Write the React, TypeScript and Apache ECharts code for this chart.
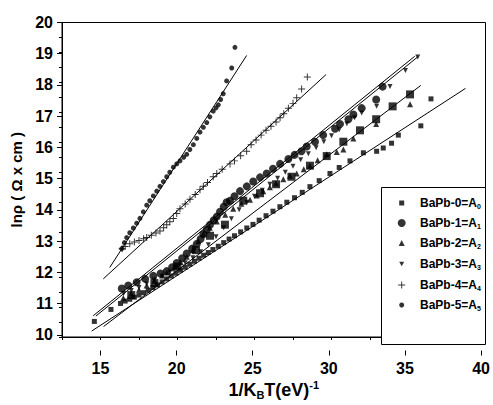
import React, { useEffect, useRef } from "react";
import * as echarts from "echarts";

// ---- data ----
const seriesNames = ["BaPb-0", "BaPb-1", "BaPb-2", "BaPb-3", "BaPb-4", "BaPb-5"];
const subIdx = ["0", "1", "2", "3", "4", "5"];

const bapb0: number[][] = [
  [14.6, 10.02], [15.68, 10.42], [16.3, 10.62], [16.6, 10.7], [16.9, 10.76], [17.2, 10.83],
  [17.5, 10.9], [17.8, 10.98], [18.1, 11.06], [18.4, 11.15], [18.7, 11.24], [19.0, 11.34],
  [19.3, 11.44], [19.6, 11.54], [19.9, 11.63], [20.2, 11.73], [20.5, 11.83], [20.8, 11.93],
  [21.1, 12.03], [21.4, 12.13], [21.7, 12.23], [22.0, 12.32], [22.3, 12.42], [22.65, 12.53],
  [23.0, 12.65], [23.35, 12.77], [23.7, 12.88], [24.1, 13.01], [24.5, 13.14], [24.9, 13.26],
  [25.3, 13.4], [25.75, 13.55], [26.2, 13.7], [26.65, 13.85], [27.1, 14.0], [27.6, 14.15],
  [28.1, 14.33], [28.6, 14.52], [29.2, 14.72], [29.9, 14.96], [30.5, 15.16], [31.2, 15.38],
  [32.07, 15.65], [32.93, 15.7], [33.36, 15.81], [33.9, 15.97], [34.34, 16.24], [35.8, 16.55],
  [36.46, 17.45],
];
const bapb1: number[][] = [
  [16.38, 11.12], [16.8, 11.22], [17.35, 11.33], [17.9, 11.44], [18.43, 11.54], [18.9, 11.62],
  [19.3, 11.7], [19.65, 11.83], [19.95, 11.97], [20.3, 12.13], [20.6, 12.29], [20.95, 12.45],
  [21.25, 12.61], [21.5, 12.77], [21.68, 12.93], [21.9, 13.09], [22.11, 13.25], [22.35, 13.4],
  [22.55, 13.52], [22.76, 13.68], [23.0, 13.85], [23.19, 14.0], [23.41, 14.05], [23.7, 14.2],
  [24.06, 14.37], [24.5, 14.53], [24.92, 14.69], [25.36, 14.83], [25.79, 14.96], [26.2, 15.12],
  [26.66, 15.28], [27.2, 15.44], [27.6, 15.58], [28.05, 15.7], [28.39, 15.86], [28.93, 16.02],
  [29.46, 16.24], [30.23, 16.45], [30.55, 16.61], [31.1, 16.77], [31.42, 16.93], [31.96, 17.14],
  [32.9, 17.43], [33.32, 17.86],
];
const bapb2: number[][] = [
  [16.48, 10.8], [17.0, 10.95], [17.5, 11.08], [18.0, 11.22], [18.5, 11.38], [19.0, 11.55],
  [19.3, 11.65], [19.8, 11.85], [20.2, 12.0], [20.6, 12.18], [21.0, 12.4], [21.35, 12.7],
  [21.68, 12.95], [22.1, 13.15], [22.55, 13.36], [23.1, 13.58], [23.62, 13.78], [24.15, 13.95],
  [24.71, 14.08], [25.15, 14.22], [25.57, 14.37], [26.0, 14.5], [26.4, 14.63], [26.87, 14.77],
  [27.3, 14.88], [27.74, 14.96], [28.2, 15.1], [28.6, 15.22], [29.1, 15.4], [29.69, 15.6],
  [30.34, 15.68], [30.77, 15.76], [31.42, 16.13], [32.9, 16.61], [35.1, 17.27],
];
const bapb2Squares: number[][] = [
  [17.0, 10.9], [18.5, 11.3], [20.0, 11.85], [21.2, 12.4], [22.11, 12.88], [23.08, 13.25],
  [24.27, 14.05], [25.36, 14.3], [26.4, 14.6], [27.4, 14.85], [28.6, 15.22], [29.69, 15.54],
  [30.77, 16.02], [31.85, 16.4], [32.9, 16.77], [33.97, 17.2], [35.1, 17.6],
];
const bapb3: number[][] = [
  [16.5, 10.95], [17.0, 11.05], [17.5, 11.15], [18.0, 11.28], [18.5, 11.4], [19.0, 11.53],
  [19.5, 11.67], [20.0, 11.82], [20.5, 11.98], [21.0, 12.15], [21.5, 12.35], [22.0, 12.58],
  [22.5, 12.85], [23.0, 13.15], [23.5, 13.45], [24.0, 13.75], [24.5, 14.0], [25.0, 14.2],
  [25.5, 14.4], [26.0, 14.6], [26.5, 14.8], [27.0, 15.0], [27.5, 15.2], [28.0, 15.42],
  [28.5, 15.62], [29.0, 15.82], [29.5, 16.02], [30.0, 16.22], [30.5, 16.42], [31.0, 16.62],
  [31.5, 16.82], [31.96, 16.98], [32.93, 17.2], [33.8, 17.86], [34.8, 18.4], [35.6, 18.85],
];
const bapb4: number[][] = [
  [16.4, 12.45], [16.6, 12.52], [16.9, 12.61], [17.2, 12.67], [17.5, 12.72], [17.8, 12.78],
  [18.0, 12.82], [18.3, 12.9], [18.6, 12.97], [18.86, 13.04], [19.1, 13.15], [19.3, 13.25],
  [19.5, 13.35], [19.73, 13.46], [19.95, 13.62], [20.16, 13.78], [20.5, 13.94], [20.81, 14.1],
  [21.15, 14.26], [21.46, 14.42], [21.68, 14.53], [21.95, 14.66], [22.32, 14.85], [22.55, 14.96],
  [22.9, 15.1], [23.41, 15.28], [23.7, 15.38], [24.1, 15.55], [24.49, 15.7], [24.78, 15.92],
  [25.1, 16.08], [25.43, 16.24], [25.75, 16.4], [26.07, 16.54], [26.4, 16.68], [26.66, 16.82],
  [26.9, 16.95], [27.2, 17.14], [27.5, 17.3], [27.74, 17.49], [28.06, 17.78], [28.43, 18.18],
];
const bapb5: number[][] = [
  [16.38, 12.45], [16.55, 12.65], [16.7, 12.82], [16.9, 12.98], [17.13, 13.14], [17.35, 13.3],
  [17.56, 13.46], [17.78, 13.68], [18.0, 13.9], [18.2, 14.05], [18.43, 14.21], [18.65, 14.37],
  [18.86, 14.53], [19.08, 14.69], [19.3, 14.85], [19.5, 15.0], [19.73, 15.17], [19.95, 15.28],
  [20.16, 15.38], [20.4, 15.5], [20.6, 15.6], [20.8, 15.76], [21.03, 15.92], [21.25, 16.13],
  [21.46, 16.34], [21.68, 16.5], [21.9, 16.66], [22.1, 16.85], [22.32, 17.04], [22.5, 17.15],
  [22.65, 17.25], [22.8, 17.43], [22.97, 17.62], [23.19, 18.05], [23.52, 18.48], [23.73, 19.17],
];

// linear fit lines: [start, end]
const fit0: number[][] = [[14.43, 9.7], [38.7, 17.8]];
const fit1: number[][] = [[14.53, 10.21], [35.4, 18.87]];
const fit2: number[][] = [[15.2, 9.85], [35.8, 17.9]];
const fit3: number[][] = [[14.7, 10.2], [35.6, 18.85]];
const fit4: number[][] = [[15.18, 11.44], [29.64, 18.26]];
const fit5: number[][] = [[15.6, 11.82], [24.49, 18.9]];

const xTicksMajor = [15, 20, 25, 30, 35, 40];
const yTicksMajor = [10, 11, 12, 13, 14, 15, 16, 17, 18, 19, 20];

const FONT = '"Liberation Sans", Arial, sans-serif';
const PLUS = "path://M4.3,0 H5.7 V4.3 H10 V5.7 H5.7 V10 H4.3 V5.7 H0 V4.3 H4.3 Z";
const DOWN_TRI = "path://M0,0 L10,0 L5,9 Z";

// marker shapes / sizes per series
const symbols = ["rect", "circle", "triangle", DOWN_TRI, PLUS, "circle"];
const symbolSizes = [5, 8, 6, 5, 7, 5];
const legendRowCenters = [200, 220, 240, 261, 282, 302];

export default function App() {
  const ref = useRef<HTMLDivElement>(null);
  useEffect(() => {
    if (!ref.current) return;
    const chart = echarts.init(ref.current, null, { renderer: "svg" });

    const scatter = (name: string, data: number[][], symbol: string, size: number) => ({
      name,
      type: "scatter",
      xAxisIndex: 0,
      yAxisIndex: 0,
      data,
      symbol,
      symbolSize: size,
      itemStyle: { color: "#000" },
      z: 3,
    });
    const fit = (data: number[][]) => ({
      type: "line",
      xAxisIndex: 0,
      yAxisIndex: 0,
      data,
      symbol: "none",
      silent: true,
      lineStyle: { color: "#000", width: 1 },
      z: 2,
    });

    const iconCenterX = 396.7;
    const textStartX = 415;
    const legends = seriesNames.map((name, i) => {
      const s = symbolSizes[i];
      const spacer = Math.max(0, textStartX - iconCenterX - s / 2 - 5);
      return {
        data: [{ name, icon: symbols[i] }],
        orient: "vertical",
        left: iconCenterX - s / 2,
        top: legendRowCenters[i] - 8,
        itemWidth: s,
        itemHeight: s,
        selectedMode: false,
        z: 5,
        formatter: (n: string) => `{gap|}${n}=A{sub|${subIdx[i]}}`,
        textStyle: {
          fontFamily: FONT, fontWeight: "bold", fontSize: 12, color: "#000",
          rich: {
            gap: { width: spacer },
            sub: { fontFamily: FONT, fontWeight: "bold", fontSize: 7, color: "#000", padding: [7, 0, 0, 0] },
          },
        },
      };
    });

    chart.setOption({
      animation: false,
      backgroundColor: "#fff",
      textStyle: { fontFamily: FONT },
      grid: [
        { left: 62, right: 7.5, top: 22.5, bottom: 54.5, show: true, borderColor: "#000", borderWidth: 1, backgroundColor: "transparent" },
        { left: 100.5, right: 7.5, top: 22.5, bottom: 54.5, show: false },
        { left: 62, right: 7.5, top: 22.5, bottom: 70.1, show: false },
      ],
      xAxis: [
        {
          type: "value", gridIndex: 0, min: 12.5, max: 40, interval: 2.5,
          axisLine: { show: true, lineStyle: { color: "#000", width: 1 } },
          axisTick: { show: true, inside: false, length: 3, lineStyle: { color: "#000" } },
          axisLabel: { show: false },
          splitLine: { show: false },
          name: "1/K{sub|B}T(eV){sup|-1}",
          nameLocation: "middle",
          nameGap: 42,
          nameTextStyle: {
            fontFamily: FONT, fontWeight: "bold", fontSize: 18, color: "#000",
            rich: {
              sub: { fontFamily: FONT, fontWeight: "bold", fontSize: 11, color: "#000", padding: [10, 0, 0, 0] },
              sup: { fontFamily: FONT, fontWeight: "bold", fontSize: 11, color: "#000", padding: [0, 0, 10, 0] },
            },
          },
        },
        {
          type: "value", gridIndex: 1, min: xTicksMajor[0], max: xTicksMajor[xTicksMajor.length - 1], interval: 5,
          axisLine: { show: false },
          axisTick: { show: true, inside: false, length: 5, lineStyle: { color: "#000" } },
          axisLabel: { show: true, margin: 10, fontFamily: FONT, fontWeight: "bold", fontSize: 16, color: "#000" },
          splitLine: { show: false },
        },
        { type: "value", gridIndex: 2, show: false, min: 0, max: 1 },
      ],
      yAxis: [
        {
          type: "value", gridIndex: 0, min: 9.5, max: 20, interval: 0.5,
          axisLine: { show: true, lineStyle: { color: "#000", width: 1 } },
          axisTick: { show: true, inside: false, length: 3, lineStyle: { color: "#000" } },
          axisLabel: { show: false },
          splitLine: { show: false },
          name: "lnρ ( Ω x cm )",
          nameLocation: "middle",
          nameGap: 38,
          nameRotate: 90,
          nameTextStyle: { fontFamily: FONT, fontWeight: "bold", fontSize: 15, color: "#000" },
        },
        { type: "value", gridIndex: 1, show: false, min: 0, max: 1 },
        {
          type: "value", gridIndex: 2, min: yTicksMajor[0], max: yTicksMajor[yTicksMajor.length - 1], interval: 1,
          axisLine: { show: false },
          axisTick: { show: true, inside: false, length: 5, lineStyle: { color: "#000" } },
          axisLabel: { show: true, margin: 9, fontFamily: FONT, fontWeight: "bold", fontSize: 16, color: "#000" },
          splitLine: { show: false },
        },
      ],
      legend: legends,
      graphic: [
        {
          type: "rect",
          shape: { x: 381.5, y: 187.5, width: 104, height: 157 },
          style: { fill: "#fff", stroke: "#000", lineWidth: 1 },
          z: 1,
        },
      ],
      series: [
        fit(fit0), fit(fit1), fit(fit2), fit(fit3), fit(fit4), fit(fit5),
        scatter(seriesNames[0], bapb0, symbols[0], symbolSizes[0]),
        scatter(seriesNames[1], bapb1, symbols[1], symbolSizes[1]),
        scatter(seriesNames[2], bapb2, symbols[2], symbolSizes[2]),
        scatter("BaPb-2 squares", bapb2Squares, "rect", 8),
        scatter(seriesNames[3], bapb3, symbols[3], symbolSizes[3]),
        scatter(seriesNames[4], bapb4, symbols[4], symbolSizes[4]),
        scatter(seriesNames[5], bapb5, symbols[5], symbolSizes[5]),
      ],
    });
    return () => chart.dispose();
  }, []);
  return <div ref={ref} style={{ position: "fixed", left: 0, top: 0, width: 493, height: 405 }} />;
}
